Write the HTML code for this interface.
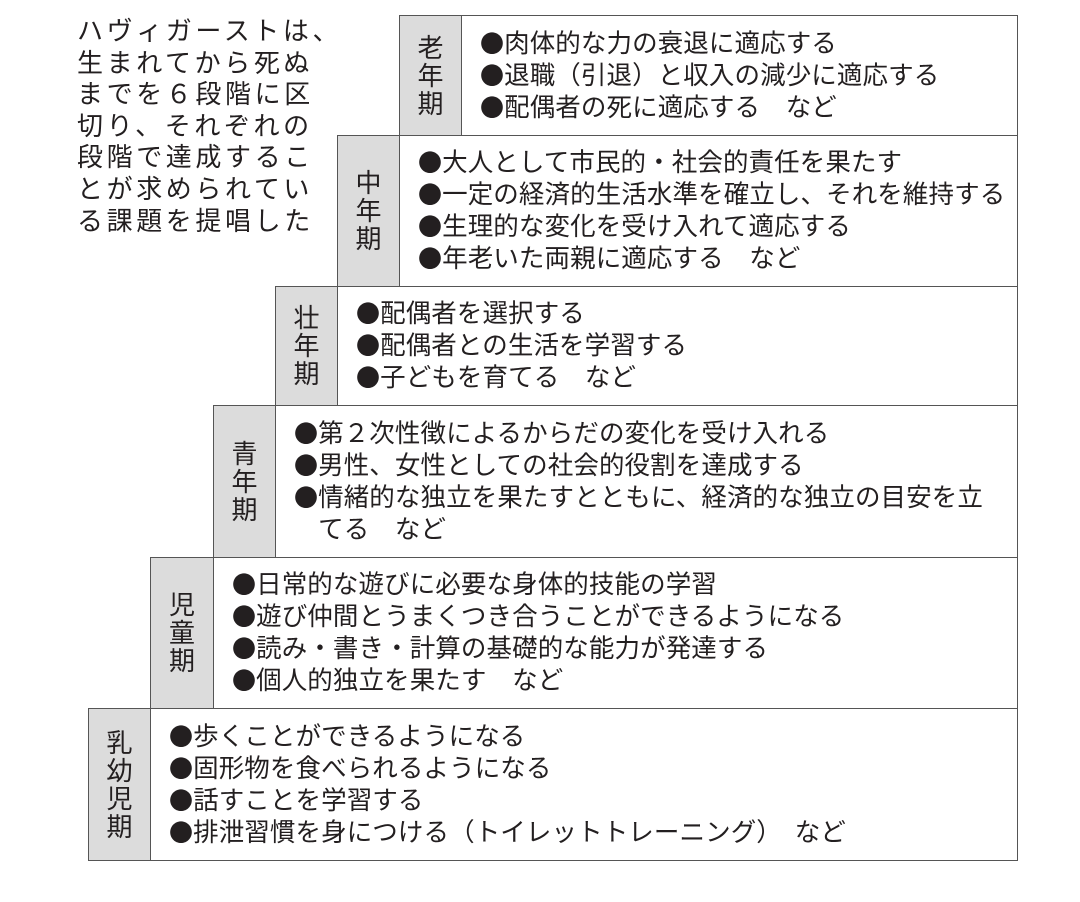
<!DOCTYPE html>
<html><head><meta charset="utf-8"><style>
body{margin:0;width:1080px;height:902px;background:#fff;position:relative;font-family:"Liberation Sans","Noto Sans CJK JP",sans-serif;color:#231f20;overflow:hidden}
.lab{position:absolute;background:#dcdcdc;border:1.5px solid #555;box-sizing:border-box;display:flex;flex-direction:column;align-items:center;justify-content:center;font-size:26px;line-height:28px}
.box{position:absolute;border:1.5px solid #555;box-sizing:border-box;display:flex;flex-direction:column;justify-content:center;padding-left:18px;padding-bottom:4px;font-size:25.5px;white-space:nowrap;letter-spacing:0.1px}
.box span{display:block;height:32px;line-height:32px;overflow:visible}
.box b{font-family:"Noto Sans CJK JP",sans-serif;font-weight:normal;font-size:24px}
.intro{position:absolute;left:77px;top:16px;font-size:26px;line-height:31.6px;letter-spacing:3.6px}
</style></head><body>
<div class="intro">ハヴィガーストは、<br>生まれてから死ぬ<br>までを６段階に区<br>切り、それぞれの<br>段階で達成するこ<br>とが求められてい<br>る課題を提唱した</div>

<div class="lab" style="left:399px;top:15px;width:63px;height:121px">老<br>年<br>期</div>
<div class="box" style="left:461px;top:15px;width:557px;height:121px"><span><b>●</b>肉体的な力の衰退に適応する</span><span><b>●</b>退職（引退）と収入の減少に適応する</span><span><b>●</b>配偶者の死に適応する　など</span></div>

<div class="lab" style="left:337px;top:135px;width:63px;height:152px">中<br>年<br>期</div>
<div class="box" style="left:399px;top:135px;width:619px;height:152px"><span><b>●</b>大人として市民的・社会的責任を果たす</span><span><b>●</b>一定の経済的生活水準を確立し、それを維持する</span><span><b>●</b>生理的な変化を受け入れて適応する</span><span><b>●</b>年老いた両親に適応する　など</span></div>

<div class="lab" style="left:275px;top:286px;width:63px;height:120px">壮<br>年<br>期</div>
<div class="box" style="left:337px;top:286px;width:681px;height:120px"><span><b>●</b>配偶者を選択する</span><span><b>●</b>配偶者との生活を学習する</span><span><b>●</b>子どもを育てる　など</span></div>

<div class="lab" style="left:213px;top:405px;width:63px;height:153px">青<br>年<br>期</div>
<div class="box" style="left:275px;top:405px;width:743px;height:153px"><span><b>●</b>第２次性徴によるからだの変化を受け入れる</span><span><b>●</b>男性、女性としての社会的役割を達成する</span><span><b>●</b>情緒的な独立を果たすとともに、経済的な独立の目安を立</span><span><b>　</b>てる　など</span></div>

<div class="lab" style="left:150px;top:557px;width:64px;height:152px">児<br>童<br>期</div>
<div class="box" style="left:213px;top:557px;width:805px;height:152px"><span><b>●</b>日常的な遊びに必要な身体的技能の学習</span><span><b>●</b>遊び仲間とうまくつき合うことができるようになる</span><span><b>●</b>読み・書き・計算の基礎的な能力が発達する</span><span><b>●</b>個人的独立を果たす　など</span></div>

<div class="lab" style="left:88px;top:708px;width:63px;height:153px">乳<br>幼<br>児<br>期</div>
<div class="box" style="left:150px;top:708px;width:868px;height:153px"><span><b>●</b>歩くことができるようになる</span><span><b>●</b>固形物を食べられるようになる</span><span><b>●</b>話すことを学習する</span><span><b>●</b>排泄習慣を身につける（トイレットトレーニング）　など</span></div>
</body></html>
